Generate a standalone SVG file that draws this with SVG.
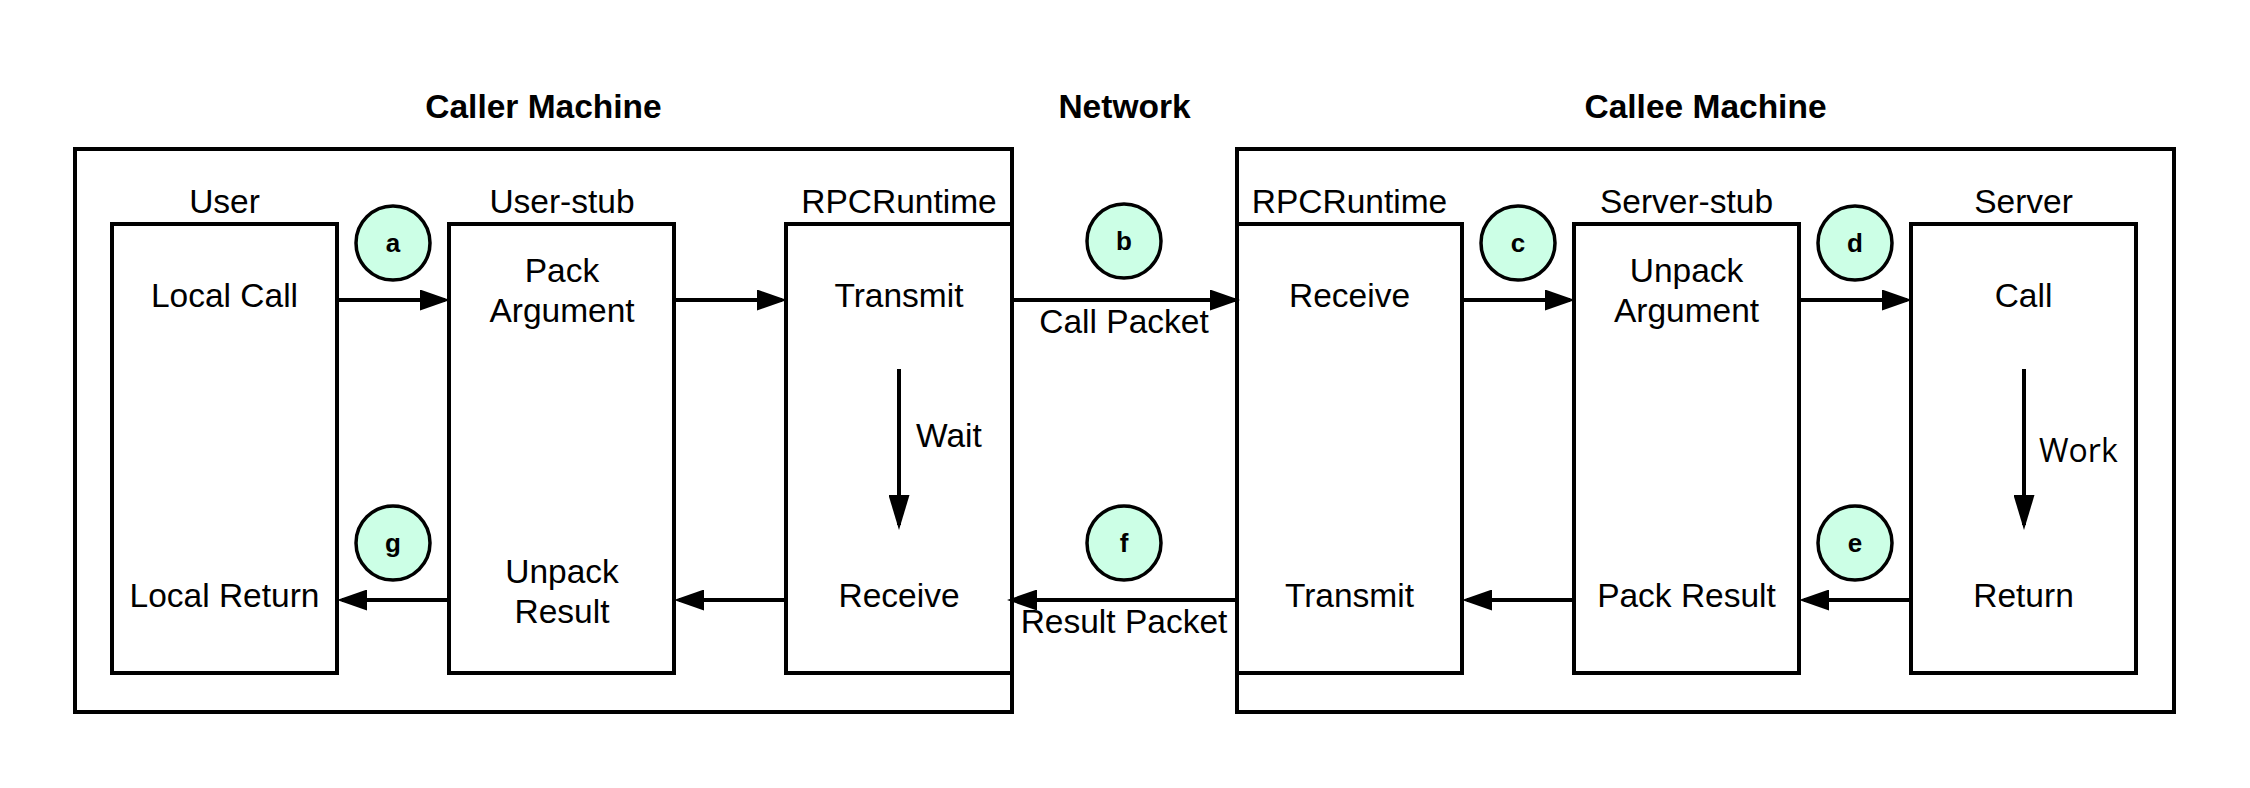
<svg xmlns="http://www.w3.org/2000/svg" width="2250" height="788" viewBox="0 0 2250 788">
<style>
.box{fill:#ffffff;stroke:#000;stroke-width:4}
.outer{fill:none;stroke:#000;stroke-width:4}
.t{font-family:"Liberation Sans",Arial,sans-serif;font-size:33.5px;fill:#000;text-anchor:middle}
.title{font-family:"Liberation Sans",Arial,sans-serif;font-size:33.5px;font-weight:bold;fill:#000;text-anchor:middle}
.work{font-family:"Open Sans",sans-serif;font-size:32px;fill:#000}
.circ{fill:#ccffe6;stroke:#000;stroke-width:3.5}
.ct{font-family:"Liberation Sans",Arial,sans-serif;font-size:26px;font-weight:bold;fill:#000;text-anchor:middle}
.ln{stroke:#000;stroke-width:4;fill:none}
.h{marker-end:url(#ah)}
.v{marker-end:url(#av)}
</style>
<defs>
<marker id="ah" viewBox="0 0 30 21" refX="25" refY="10.5" markerWidth="30" markerHeight="21" markerUnits="userSpaceOnUse" orient="auto"><path d="M0,0 L30,10.5 L0,21 z" fill="#000"/></marker>
<marker id="av" viewBox="0 0 35 21" refX="30" refY="10.5" markerWidth="35" markerHeight="21" markerUnits="userSpaceOnUse" orient="auto"><path d="M0,0 L35,10.5 L0,21 z" fill="#000"/></marker>
</defs>
<rect width="2250" height="788" fill="#ffffff"/>
<g id="titles">
<text class="title" x="543.5" y="118">Caller Machine</text>
<text class="title" x="1124.5" y="118">Network</text>
<text class="title" x="1705.5" y="118">Callee Machine</text>
</g>
<g id="caller-machine"><rect class="outer" x="75" y="149" width="937" height="563"/></g>
<g id="callee-machine"><rect class="outer" x="1237" y="149" width="937" height="563"/></g>
<g id="user">
<rect class="box" x="112" y="224" width="225" height="449"/>
<text class="t" x="224.5" y="213">User</text>
<text class="t" x="224.5" y="307">Local Call</text>
<text class="t" x="224.5" y="607">Local Return</text>
</g>
<g id="user-stub">
<rect class="box" x="449" y="224" width="225" height="449"/>
<text class="t" x="562" y="282">Pack</text>
<text class="t" x="562" y="213">User-stub</text>
<text class="t" x="562" y="322">Argument</text>
<text class="t" x="562" y="583">Unpack</text>
<text class="t" x="562" y="623">Result</text>
</g>
<g id="rpc-caller">
<rect class="box" x="786" y="224" width="226" height="449"/>
<text class="t" x="899" y="213">RPCRuntime</text>
<text class="t" x="899" y="307">Transmit</text>
<text class="t" x="899" y="607">Receive</text>
</g>
<g id="rpc-callee">
<rect class="box" x="1237" y="224" width="225" height="449"/>
<text class="t" x="1349.5" y="213">RPCRuntime</text>
<text class="t" x="1349.5" y="307">Receive</text>
<text class="t" x="1349.5" y="607">Transmit</text>
</g>
<g id="server-stub">
<rect class="box" x="1574" y="224" width="225" height="449"/>
<text class="t" x="1686.5" y="213">Server-stub</text>
<text class="t" x="1686.5" y="282">Unpack</text>
<text class="t" x="1686.5" y="322">Argument</text>
<text class="t" x="1686.5" y="607">Pack Result</text>
</g>
<g id="server">
<rect class="box" x="1911" y="224" width="225" height="449"/>
<text class="t" x="2023.5" y="213">Server</text>
<text class="t" x="2023.5" y="307">Call</text>
<text class="t" x="2023.5" y="607">Return</text>
</g>
<g id="connectors">
<line class="ln h" x1="337" y1="300" x2="445" y2="300"/>
<line class="ln h" x1="674" y1="300" x2="782" y2="300"/>
<line class="ln h" x1="1012" y1="300" x2="1235" y2="300"/>
<line class="ln h" x1="1462" y1="300" x2="1570" y2="300"/>
<line class="ln h" x1="1799" y1="300" x2="1907" y2="300"/>
<line class="ln h" x1="1911" y1="600" x2="1804" y2="600"/>
<line class="ln h" x1="1574" y1="600" x2="1467" y2="600"/>
<line class="ln h" x1="1237" y1="600" x2="1012" y2="600"/>
<line class="ln h" x1="786" y1="600" x2="679" y2="600"/>
<line class="ln h" x1="449" y1="600" x2="342" y2="600"/>
<line class="ln v" x1="899" y1="369" x2="899" y2="525"/>
<line class="ln v" x1="2024" y1="369" x2="2024" y2="525"/>
<text class="t" x="1124" y="333">Call Packet</text>
<text class="t" x="1124" y="633">Result Packet</text>
<text class="t" x="916" y="447" style="text-anchor:start">Wait</text>
<text class="work" x="2039" y="462">Work</text>
</g>
<g id="step-a"><circle class="circ" cx="393" cy="243" r="37"/><text class="ct" x="393" y="252">a</text></g>
<g id="step-b"><circle class="circ" cx="1124" cy="241" r="37"/><text class="ct" x="1124" y="250">b</text></g>
<g id="step-c"><circle class="circ" cx="1518" cy="243" r="37"/><text class="ct" x="1518" y="252">c</text></g>
<g id="step-d"><circle class="circ" cx="1855" cy="243" r="37"/><text class="ct" x="1855" y="252">d</text></g>
<g id="step-e"><circle class="circ" cx="1855" cy="543" r="37"/><text class="ct" x="1855" y="552">e</text></g>
<g id="step-f"><circle class="circ" cx="1124" cy="543" r="37"/><text class="ct" x="1124" y="552">f</text></g>
<g id="step-g"><circle class="circ" cx="393" cy="543" r="37"/><text class="ct" x="393" y="552">g</text></g>
</svg>
